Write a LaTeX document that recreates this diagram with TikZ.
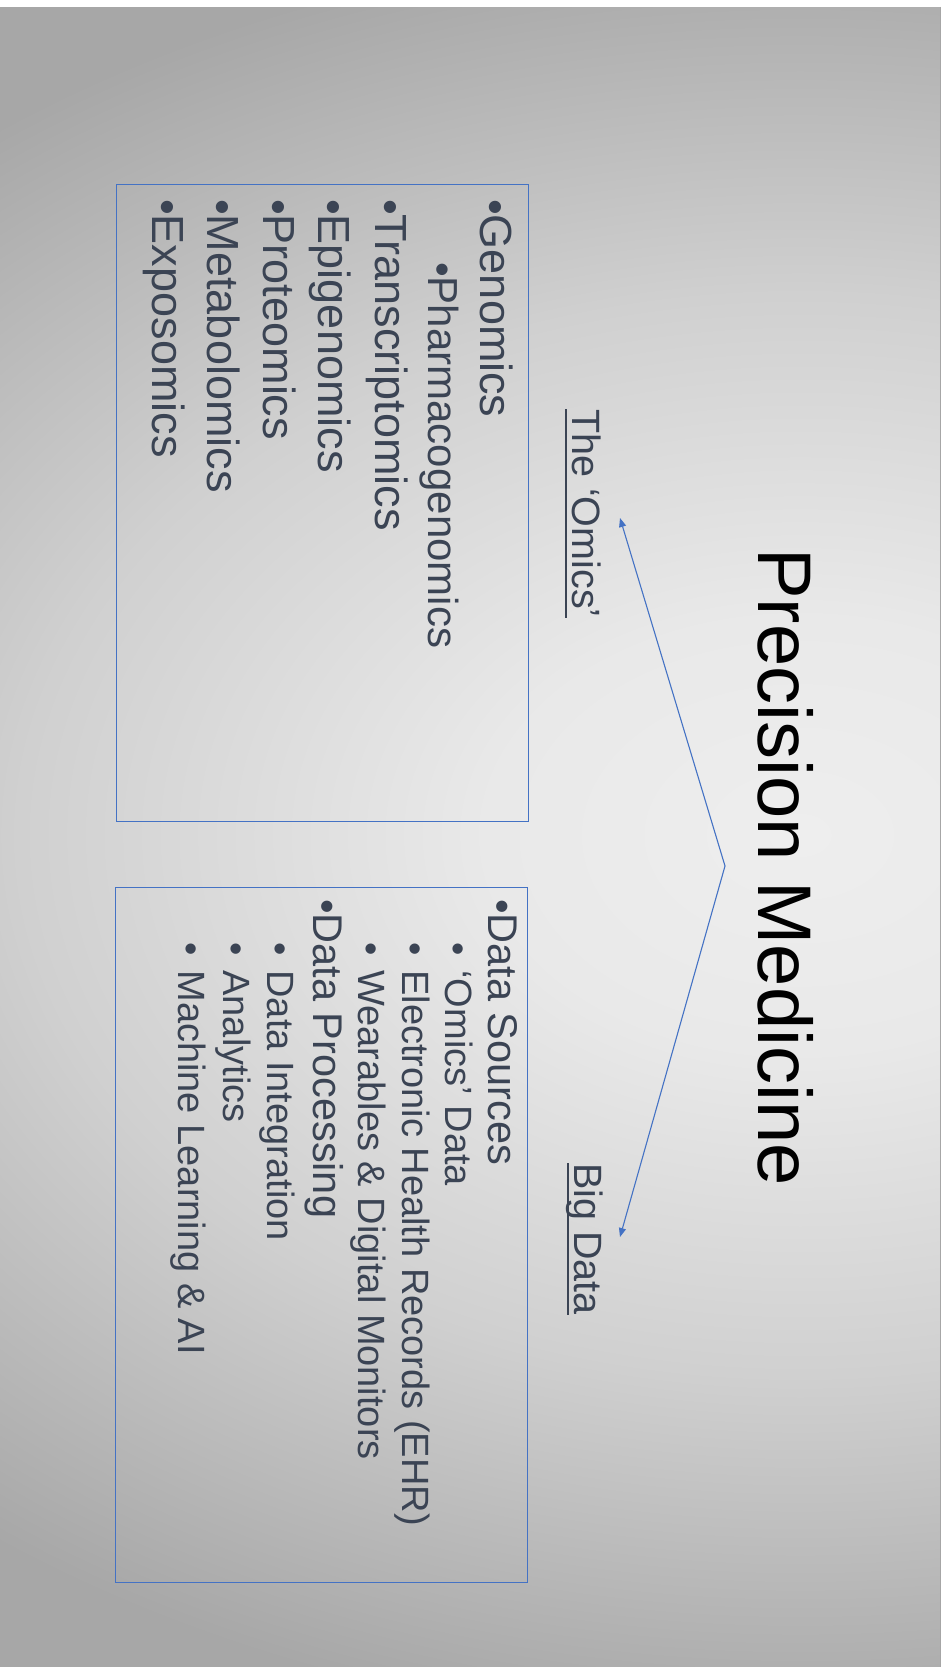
\documentclass[tikz,border=0pt]{standalone}
\usepackage{fontspec}
\setmainfont{Liberation Sans}
\usetikzlibrary{arrows.meta}
\definecolor{txt}{HTML}{3B4454}
\definecolor{blu}{HTML}{4472C4}
\definecolor{bgA}{HTML}{EEEEEE}
\definecolor{bgB}{HTML}{E9E9E9}
\definecolor{bgC}{HTML}{D0D0D0}
\definecolor{bgD}{HTML}{A7A7A7}
\pgfdeclareradialshading{bgshade}{\pgfpointorigin}{color(0bp)=(bgA); color(6bp)=(bgB); color(15bp)=(bgC); color(25bp)=(bgD); color(50bp)=(bgD)}
\begin{document}
\begin{tikzpicture}[x=1pt,y=-1pt,
  item/.style={rotate=-90, anchor=base west, inner sep=0pt, text=txt},
  omicsitem/.style={item, font=\fontsize{45}{54}\selectfont},
  omicssub/.style={item, font=\fontsize{42}{50}\selectfont},
  bigitem/.style={item, font=\fontsize{41.5}{50}\selectfont},
  bigsub/.style={item, font=\fontsize{38}{46}\selectfont},
  heading/.style={item, font=\fontsize{39.5}{46}\selectfont},
  ulin/.style={draw=txt, line width=1.8pt},
  frame/.style={draw=blu, line width=1pt},
  conn/.style={draw=blu, line width=1.1pt, {Triangle[length=9pt,width=7pt]}-{Triangle[length=9pt,width=7pt]}}
]
\useasboundingbox (0,0) rectangle (943,1667);
\fill[bgD] (0,7) rectangle (940,1667);
\begin{scope}
  \clip (0,7) rectangle (940,1667);
  \shade[shading=bgshade] (800,835) ellipse [x radius=1300pt, y radius=900pt];
\end{scope}
\fill[white] (0,0) rectangle (943,7);
\fill[white] (940,0) rectangle (943,1667);
\draw[gray!70, line width=0.8pt] (940,7) -- (940,1667);

% title
\node[rotate=-90, anchor=base, inner sep=0pt, font=\fontsize{76}{80}\selectfont] (title) at (758,867) {Precision Medicine};

% headings
\node[heading] (omics) at (572,409) {The ‘Omics’};
\draw[ulin] ([xshift=-6pt]omics.base west) -- ([xshift=-6pt]omics.base east);
\node[heading] (big) at (574,1163) {Big Data};
\draw[ulin] ([xshift=-6pt]big.base west) -- ([xshift=-6pt]big.base east);

% connector
\coordinate (apex) at (725,866);
\coordinate (tipA) at (620,518);
\coordinate (tipB) at (620,1237);
\draw[conn] (tipA) -- (apex) -- (tipB);

% boxes
\draw[frame] (116,184) rectangle (528,821);
\draw[frame] (115,887) rectangle (527,1582);

% omics list
\node[omicsitem] (o1) at (480,199) {•Genomics};
\node[omicssub]  (o2) at (428,262) {•Pharmacogenomics};
\node[omicsitem] (o3) at (375,199) {•Transcriptomics};
\node[omicsitem] (o4) at (318,199) {•Epigenomics};
\node[omicsitem] (o5) at (263,199) {•Proteomics};
\node[omicsitem] (o6) at (207,199) {•Metabolomics};
\node[omicsitem] (o7) at (152,199) {•Exposomics};

% big data list
\node[bigitem] (b1) at (488,899) {•Data Sources};
\node[bigsub]  (b2) at (445,942) {•\hspace{15pt}‘Omics’ Data};
\node[bigsub]  (b3) at (402,942) {•\hspace{15pt}Electronic Health Records (EHR)};
\node[bigsub]  (b4) at (358,942) {•\hspace{15pt}Wearables \& Digital Monitors};
\node[bigitem] (b5) at (313,899) {•Data Processing};
\node[bigsub]  (b6) at (267,942) {•\hspace{15pt}Data Integration};
\node[bigsub]  (b7) at (223,942) {•\hspace{15pt}Analytics};
\node[bigsub]  (b8) at (178,942) {•\hspace{15pt}Machine Learning \& AI};
\end{tikzpicture}
\end{document}
